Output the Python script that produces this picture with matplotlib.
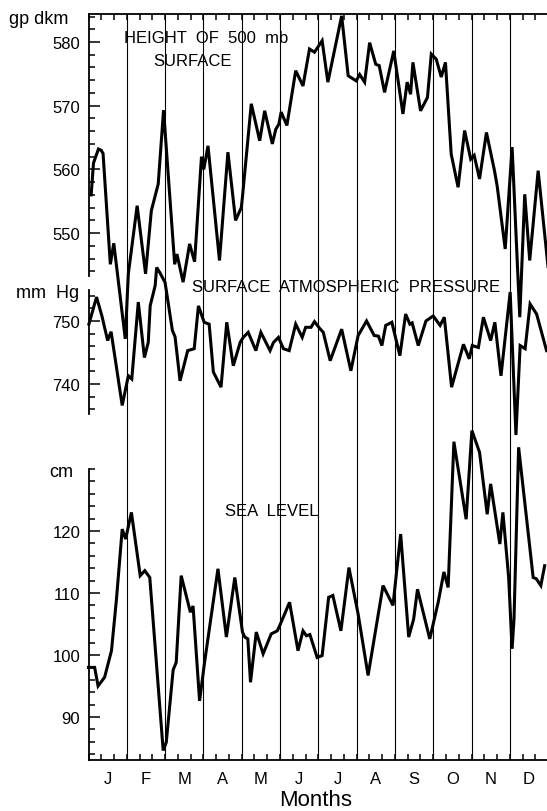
import matplotlib
matplotlib.use("Agg")
import matplotlib.pyplot as plt
from matplotlib.ticker import FixedLocator, NullFormatter
import numpy as np

plt.rcParams['font.family'] = ['Liberation Sans', 'DejaVu Sans']

months = ['J', 'F', 'M', 'A', 'M', 'J', 'J', 'A', 'S', 'O', 'N', 'D']

# time in months since 1 January
h500_t = [0.07, 0.13, 0.26, 0.33, 0.38, 0.57, 0.66, 0.96, 1.04, 1.27, 1.49, 1.64,
          1.82, 1.96, 2.25, 2.31, 2.47, 2.64, 2.77, 2.95, 3.01, 3.12, 3.42, 3.64,
          3.84, 3.99, 4.02, 4.25, 4.47, 4.60, 4.80, 4.89, 4.97, 5.03, 5.18, 5.41,
          5.60, 5.77, 5.90, 6.10, 6.25, 6.61, 6.78, 6.99, 7.08, 7.21, 7.34, 7.50,
          7.59, 7.73, 7.97, 8.21, 8.32, 8.41, 8.47, 8.67, 8.85, 8.95, 9.08, 9.21,
          9.32, 9.47, 9.65, 9.82, 9.98, 10.07, 10.21, 10.39, 10.60, 10.67, 10.88,
          11.06, 11.26, 11.39, 11.52, 11.74, 12.00]
h500_v = [556.0, 561.0, 563.2, 563.0, 562.5, 545.1, 548.4, 533.4, 543.6, 554.3, 543.6, 553.5,
          557.7, 569.3, 545.1, 546.7, 542.3, 548.3, 545.5, 562.0, 560.0, 563.7, 545.7, 562.7,
          552.0, 554.0, 555.7, 570.3, 564.5, 569.2, 564.0, 566.3, 567.1, 569.0, 566.9, 575.5,
          573.1, 578.9, 578.4, 580.2, 573.7, 584.1, 574.7, 573.9, 574.9, 573.7, 579.9, 576.5,
          576.3, 572.1, 578.6, 568.7, 573.7, 571.8, 576.8, 569.2, 571.3, 578.1, 577.3, 574.5,
          576.8, 562.4, 557.2, 566.1, 561.6, 562.2, 558.5, 565.8, 559.8, 557.4, 547.5,
          563.5, 536.8, 556.1, 545.7, 559.8, 544.6]

pres_t = [0.01, 0.21, 0.35, 0.50, 0.59, 0.88, 1.04, 1.13, 1.30, 1.46, 1.56, 1.61,
          1.74, 1.78, 1.87, 2.00, 2.19, 2.26, 2.39, 2.59, 2.76, 2.87, 3.02, 3.15,
          3.26, 3.46, 3.61, 3.78, 3.96, 4.04, 4.17, 4.37, 4.50, 4.74, 4.83, 4.96,
          5.09, 5.24, 5.41, 5.58, 5.67, 5.81, 5.90, 6.04, 6.13, 6.31, 6.61, 6.85,
          7.04, 7.26, 7.46, 7.57, 7.66, 7.76, 7.92, 8.13, 8.28, 8.39, 8.45, 8.61,
          8.81, 9.00, 9.18, 9.29, 9.48, 9.79, 9.94, 10.02, 10.18, 10.31, 10.50,
          10.61, 10.77, 11.01, 11.16, 11.27, 11.40, 11.53, 11.70, 11.96]
pres_v = [749.5, 753.8, 750.8, 746.9, 748.3, 736.6, 741.3, 740.8, 753.0, 744.2, 746.6, 752.4,
          755.6, 758.5, 757.6, 756.1, 748.5, 747.5, 740.5, 745.3, 745.6, 752.4, 749.8, 749.5,
          741.9, 739.5, 749.8, 742.9, 746.6, 747.4, 748.2, 745.3, 748.2, 745.3, 746.6, 747.4,
          745.6, 745.3, 749.5, 747.4, 749.0, 749.0, 749.9, 748.8, 748.2, 743.7, 748.7, 742.1,
          747.7, 750.0, 747.7, 747.6, 746.1, 749.3, 749.8, 744.5, 751.1, 749.5, 749.7, 746.1,
          750.0, 750.8, 749.3, 750.6, 739.5, 746.3, 744.0, 746.1, 745.8, 750.6, 746.9,
          749.8, 741.3, 754.6, 731.9, 746.1, 745.6, 752.7, 751.1, 745.3]

sea_t = [0.00, 0.16, 0.25, 0.42, 0.60, 0.73, 0.88, 0.97, 1.12, 1.35, 1.47, 1.60,
         1.95, 2.03, 2.21, 2.29, 2.42, 2.66, 2.73, 2.90, 3.03, 3.38, 3.60, 3.82,
         4.02, 4.08, 4.16, 4.23, 4.38, 4.56, 4.77, 4.93, 4.99, 5.25, 5.47, 5.60,
         5.69, 5.78, 5.97, 6.10, 6.27, 6.38, 6.59, 6.80, 7.04, 7.30, 7.69, 7.95,
         8.15, 8.36, 8.49, 8.59, 8.91, 9.13, 9.28, 9.39, 9.54, 9.86, 10.01, 10.21,
         10.41, 10.50, 10.74, 10.82, 10.97, 11.06, 11.11, 11.23, 11.61, 11.69, 11.81, 11.91]
sea_v = [98.0, 98.0, 95.0, 96.4, 100.7, 109.0, 120.3, 118.7, 123.0, 112.8, 113.6, 112.5,
         84.6, 85.9, 97.6, 98.8, 112.8, 106.9, 107.9, 92.6, 98.8, 113.9, 102.9, 112.5,
         103.7, 102.9, 102.6, 95.6, 103.7, 100.2, 103.4, 103.9, 104.7, 108.5, 100.7, 103.9,
         103.1, 103.3, 99.6, 99.9, 109.3, 109.6, 103.9, 114.1, 106.6, 96.7, 111.2, 108.0,
         119.5, 102.9, 105.8, 110.6, 102.6, 108.5, 113.4, 110.9, 134.4, 121.9, 136.2, 132.7,
         122.7, 127.6, 117.9, 123.0, 112.5, 101.0, 105.8, 133.5, 112.5, 112.3, 111.2, 114.4]

W, H = 547, 812
fig = plt.figure(figsize=(W / 100, H / 100), dpi=100)

def fx(px):
    return px / W

def fy(py):
    return 1 - py / H

left_px, right_px, top_px, bot_px = 88.5, 548.1, 15, 761
rect = [fx(left_px), fy(bot_px), (right_px - left_px) / W, (bot_px - top_px) / H]

def ylims(ref_val, ref_px, px_per_unit):
    return (ref_val - (bot_px - ref_px) / px_per_unit,
            ref_val + (ref_px - top_px) / px_per_unit)

LW_CURVE = 2.2
LW_SPINE = 1.3
FS = 12

panels = [
    # (t, v, ylim anchors, spine bounds, majors, minors)
    (sea_t, sea_v, (100, 656, 6.2), (83.06, 130), [90, 100, 110, 120], np.arange(84, 131, 2)),
    (pres_t, pres_v, (750, 322, 6.3), (735.3, 755), [740, 750], np.arange(736, 755, 2)),
    (h500_t, h500_v, (580, 43, 6.37), (543.2, 584.4), [550, 560, 570, 580], np.arange(544, 585, 2)),
]

axes = []
for i, (t, v, anc, bounds, majors, minors) in enumerate(panels):
    ax = fig.add_axes(rect)
    ax.set_facecolor('none')
    ax.set_xlim(0, 12)
    ax.set_ylim(*ylims(*anc))
    ax.plot(t, v, color='black', lw=LW_CURVE, solid_joinstyle='miter', clip_on=False)
    for s in ['right', 'top', 'bottom']:
        ax.spines[s].set_visible(False)
    ax.spines['left'].set_bounds(*bounds)
    ax.spines['left'].set_linewidth(LW_SPINE)
    ax.yaxis.set_major_locator(FixedLocator(majors))
    ax.yaxis.set_minor_locator(FixedLocator([m for m in minors if m not in majors]))
    ax.yaxis.set_minor_formatter(NullFormatter())
    ax.tick_params(axis='y', which='major', direction='in', length=8, width=1.1,
                   labelsize=FS, pad=6)
    ax.tick_params(axis='y', which='minor', direction='in', length=4.5, width=1.1)
    ax.tick_params(axis='x', which='both', bottom=False, top=False,
                   labelbottom=False, labeltop=False)
    axes.append(ax)

ax_sea, ax_pres, ax_h = axes

# month boundary lines
for k in range(1, 13):
    ax_sea.axvline(k, color='black', lw=0.8, zorder=0)

# bottom axis
ax_sea.spines['bottom'].set_visible(True)
ax_sea.spines['bottom'].set_linewidth(LW_SPINE)
ax_sea.set_xticks(np.arange(0, 12.01, 1 / 3))
ax_sea.set_xticks(np.arange(12) + 0.5, minor=True)
ax_sea.set_xticklabels(months, minor=True)
ax_sea.tick_params(axis='x', which='major', bottom=True, direction='in', length=4.5,
                   width=1.1, labelbottom=False)
ax_sea.tick_params(axis='x', which='minor', bottom=True, length=0, labelbottom=True,
                   labelsize=FS, pad=8)

# top axis
ax_h.spines['top'].set_visible(True)
ax_h.spines['top'].set_linewidth(LW_SPINE)
ax_h.set_xticks(np.arange(0, 12.01, 1 / 3))
ax_h.tick_params(axis='x', which='major', top=True, direction='in', length=4.5,
                 width=1.1, labeltop=False)

# unit labels
fig.text(fx(68), fy(24), 'gp dkm', ha='right', va='baseline', fontsize=13)
fig.text(fx(79), fy(298), 'mm  Hg', ha='right', va='baseline', fontsize=13)
fig.text(fx(73), fy(477), 'cm', ha='right', va='baseline', fontsize=13)

# panel titles
fig.text(fx(206), fy(43), 'HEIGHT  OF  500  mb', ha='center', va='baseline', fontsize=FS)
fig.text(fx(193), fy(66.5), 'SURFACE', ha='center', va='baseline', fontsize=FS)
fig.text(fx(346), fy(291.5), 'SURFACE  ATMOSPHERIC  PRESSURE', ha='center', va='baseline',
         fontsize=FS)
fig.text(fx(272), fy(516.5), 'SEA  LEVEL', ha='center', va='baseline', fontsize=FS)

fig.text(fx(316), fy(806), 'Months', ha='center', va='baseline', fontsize=16)

fig.savefig('out.png', dpi=100)
